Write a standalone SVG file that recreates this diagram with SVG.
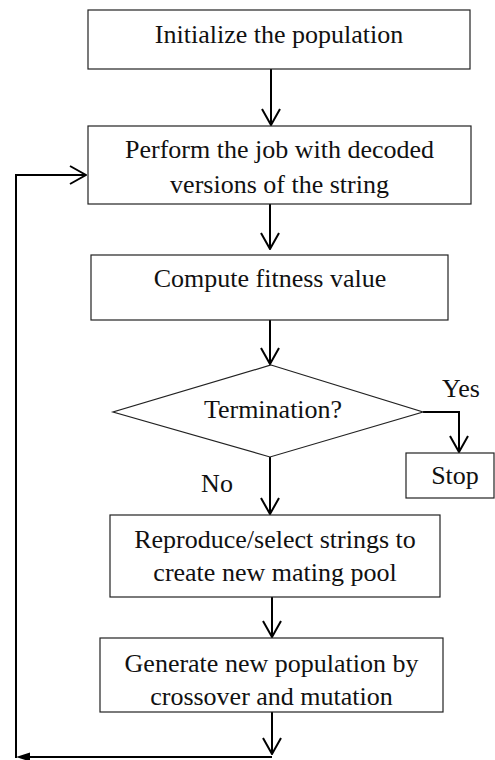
<svg xmlns="http://www.w3.org/2000/svg" width="495" height="760" viewBox="0 0 495 760">
<style>
.box{fill:#fff;stroke:#222;stroke-width:1.2}
.t{font-family:"Liberation Serif","Times New Roman",serif;font-size:26px;fill:#111;text-anchor:middle}
.c{fill:none;stroke:#000;stroke-width:2}
</style>
<defs>
<marker id="open" viewBox="0 0 18 20" refX="17" refY="10" markerWidth="18" markerHeight="20" markerUnits="userSpaceOnUse" orient="auto">
<path d="M1,1 L17,10 L1,19" fill="none" stroke="#000" stroke-width="2"/>
</marker>
<marker id="solid" viewBox="0 0 14 10" refX="0" refY="5" markerWidth="14" markerHeight="10" markerUnits="userSpaceOnUse" orient="auto-start-reverse">
<path d="M0,5 L14,0 L14,10 Z" fill="#000"/>
</marker>
</defs>
<rect width="495" height="760" fill="#fff"/>
<g id="connectors">
<path class="c" d="M271,69 V125" marker-end="url(#open)"/>
<path class="c" d="M270,204 V249" marker-end="url(#open)"/>
<path class="c" d="M270,320 V364" marker-end="url(#open)"/>
<path class="c" d="M423,412 H459 V452" marker-end="url(#open)"/>
<path class="c" d="M270,457 V514" marker-end="url(#open)"/>
<path class="c" d="M272,597 V637" marker-end="url(#open)"/>
<path class="c" d="M272,712 V754" marker-end="url(#open)"/>
<path class="c" d="M272,757 H30"/>
<path d="M16,757 L30,752.5 L30,761.5 Z" fill="#000"/>
<path class="c" d="M16,758 V175 H86" marker-end="url(#open)"/>
</g>
<g id="init">
<rect class="box" x="88" y="10" width="382" height="59"/>
<text class="t" x="279" y="43">Initialize the population</text>
</g>
<g id="perform">
<rect class="box" x="88" y="126" width="383" height="78"/>
<text class="t" x="279.5" y="158">Perform the job with decoded</text>
<text class="t" x="279.5" y="193">versions of the string</text>
</g>
<g id="fitness">
<rect class="box" x="91" y="255" width="357" height="65"/>
<text class="t" x="270" y="287">Compute fitness value</text>
</g>
<g id="termination">
<polygon class="box" points="271,365 423,412 270,457 113,412"/>
<text class="t" x="273" y="418">Termination?</text>
<text class="t" x="461" y="397">Yes</text>
<text class="t" x="217" y="492">No</text>
</g>
<g id="stop">
<rect class="box" x="406" y="453" width="88" height="45"/>
<text class="t" x="455" y="484">Stop</text>
</g>
<g id="reproduce">
<rect class="box" x="110" y="515" width="330" height="82"/>
<text class="t" x="275" y="548">Reproduce/select strings to</text>
<text class="t" x="275" y="581">create new mating pool</text>
</g>
<g id="generate">
<rect class="box" x="100" y="638" width="343" height="74"/>
<text class="t" x="271.5" y="672">Generate new population by</text>
<text class="t" x="271.5" y="705">crossover and mutation</text>
</g>
</svg>
